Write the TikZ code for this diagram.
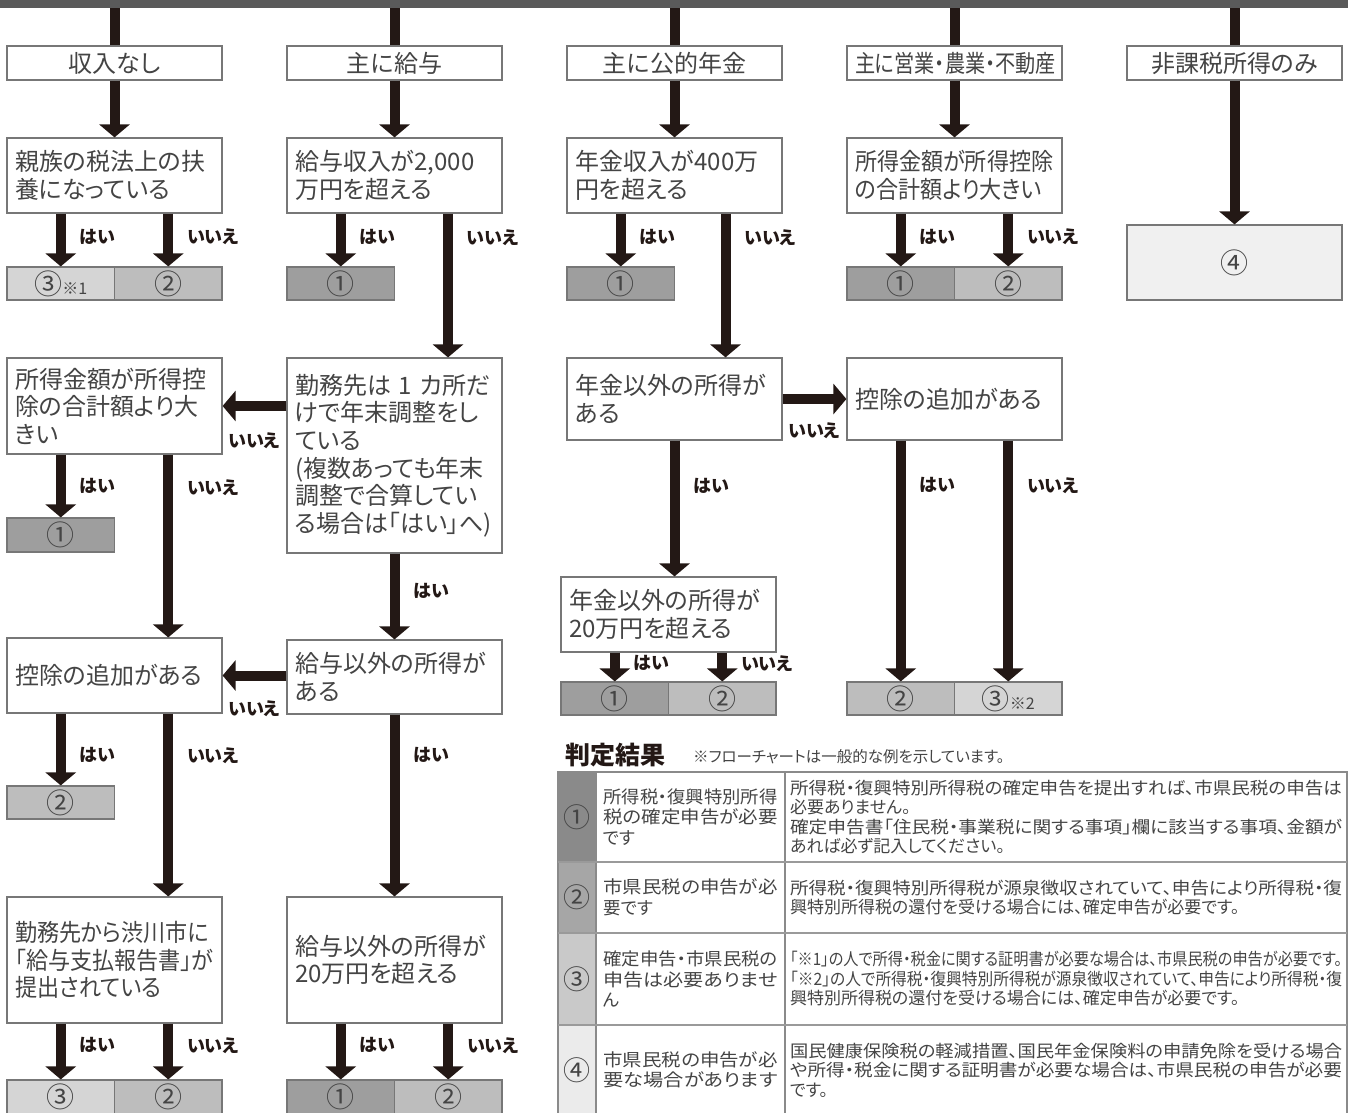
\documentclass[tikz,border=0pt]{standalone}
\usepackage{fontspec}
\usepackage{graphicx}
\setmainfont{Noto Sans CJK JP}[RawFeature=+palt]
\newfontfamily\narrowjp{Noto Sans CJK JP}[RawFeature=+palt, FakeStretch=0.92]
\newfontfamily\condjp{Noto Sans CJK JP}[RawFeature=+palt, FakeStretch=0.84]
\usetikzlibrary{arrows.meta, positioning}

\definecolor{ink}{HTML}{231815}
\definecolor{barGray}{HTML}{5A5A5A}
\definecolor{edgeGray}{HTML}{777777}
\definecolor{textGray}{HTML}{444444}
\definecolor{resOne}{HTML}{9E9E9E}
\definecolor{resTwo}{HTML}{BDBDBD}
\definecolor{resThree}{HTML}{D5D5D5}
\definecolor{resFour}{HTML}{F0F0F0}
\definecolor{tabOne}{HTML}{8A8A8A}
\definecolor{tabTwo}{HTML}{A6A6A6}
\definecolor{tabThree}{HTML}{C9C9C9}
\definecolor{tabFour}{HTML}{EBEBEB}
\definecolor{tableEdge}{HTML}{8A8A8A}
\definecolor{ruleGray}{HTML}{9A9A9A}

\newcommand{\fitline}[2]{\resizebox{#1}{\height}{#2}}

\begin{document}
\begin{tikzpicture}[
    x=1pt, y=-1pt,
    node distance=112.5pt,
    >={Triangle[width=30pt, length=13pt]},
    arrow/.style={->, line width=10pt, draw=ink},
    link/.style={line width=10pt, draw=ink},
    question/.style={rectangle, draw=edgeGray, line width=1.2pt, fill=white, text=textGray,
        font=\fontsize{24}{27.5}\selectfont, minimum width=215pt, text width=199pt,
        inner xsep=8pt, inner ysep=2pt, align=left},
    category/.style={question, align=center, minimum height=34pt},
    narrow/.style={font=\narrowjp\fontsize{24}{27.5}\selectfont},
    result/.style={rectangle, draw=edgeGray, line width=1.2pt, text=textGray,
        font=\fontsize{28}{28}\selectfont, minimum width=107.5pt, minimum height=33pt, inner sep=0pt},
    answer/.style={font=\bfseries\fontsize{18}{18}\selectfont, text=ink, inner sep=0pt},
    numcell/.style={rectangle, draw=tableEdge, line width=1.2pt, outer sep=0pt, text=textGray,
        font=\fontsize{27}{27}\selectfont, minimum width=38pt, inner sep=0pt},
    labelcell/.style={rectangle, draw=tableEdge, line width=1.2pt, outer sep=0pt, text=textGray,
        font=\fontsize{17.5}{20.5}\selectfont, minimum width=189pt, text width=174pt,
        inner xsep=7.5pt, align=left},
    desccell/.style={rectangle, draw=tableEdge, line width=1.2pt, outer sep=0pt, text=textGray,
        font=\fontsize{17}{19.5}\selectfont, minimum width=562pt, text width=552pt,
        inner xsep=5pt, align=left},
    rowrule/.style={line width=2.5pt, draw=ruleGray}
]
\useasboundingbox (0,0) rectangle (1348,1112);

% Nodes
\node (topBar) [rectangle, fill=barGray, minimum width=1348pt, minimum height=8pt, inner sep=0pt] at (674,4) {};
\node (noIncome) [category] at (114.5,63) {収入なし};
\node (mainSalary) [category, node distance=280pt, right of=noIncome] {主に給与};
\node (mainPension) [category, node distance=280pt, right of=mainSalary] {主に公的年金};
\node (mainBusiness) [category, node distance=280pt, right of=mainPension, font=\condjp\fontsize{24}{27.5}\selectfont] {主に営業・農業・不動産};
\node (taxFreeOnly) [category, node distance=280pt, right of=mainBusiness] {非課税所得のみ};

\node (checkDependent) [question, below of=noIncome, minimum height=75pt] {親族の税法上の扶\\養になっている};
\node (checkSalary) [question, below of=mainSalary, minimum height=75pt] {給与収入が2,000\\万円を超える};
\node (checkPension) [question, below of=mainPension, minimum height=75pt] {年金収入が400万\\円を超える};
\node (checkProfit) [question, narrow, below of=mainBusiness, minimum height=75pt] {所得金額が所得控除\\の合計額より大きい};
\node (resFourTop) [result, fill=resFour, node distance=199.5pt, below of=taxFreeOnly, minimum width=215pt, minimum height=75pt] {④};

\node (depYes) [result, fill=resThree, node distance=108pt, below of=checkDependent, xshift=-53.75pt] {③{\fontsize{16}{16}\selectfont※1}};
\node (depNo) [result, fill=resTwo, node distance=108pt, below of=checkDependent, xshift=53.75pt] {②};
\node (salYes) [result, fill=resOne, node distance=108pt, below of=checkSalary, xshift=-53.75pt] {①};
\node (penYes) [result, fill=resOne, node distance=108pt, below of=checkPension, xshift=-53.75pt] {①};
\node (profYes) [result, fill=resOne, node distance=108pt, below of=checkProfit, xshift=-53.75pt] {①};
\node (profNo) [result, fill=resTwo, node distance=108pt, below of=checkProfit, xshift=53.75pt] {②};

\node (oneEmployer) [question, node distance=280pt, below of=checkSalary, minimum height=195pt] {勤務先は~1~カ所だ\\けで年末調整をし\\ている\\(複数あっても年末\\調整で合算してい\\る場合は「はい」へ)};
\node (checkProfitB) [question, node distance=230.5pt, below of=checkDependent, minimum height=96pt] {所得金額が所得控\\除の合計額より大\\きい};
\node (profBYes) [result, fill=resOne, node distance=129pt, below of=checkProfitB, xshift=-53.75pt, minimum height=34pt] {①};
\node (addDeductA) [question, node distance=269.5pt, below of=checkProfitB, minimum height=75pt] {控除の追加がある};
\node (addAYes) [result, fill=resTwo, node distance=127pt, below of=addDeductA, xshift=-53.75pt] {②};
\node (reportFiled) [question, narrow, node distance=284.5pt, below of=addDeductA, minimum height=126pt] {勤務先から渋川市に\\「給与支払報告書」が\\提出されている};
\node (reportYes) [result, fill=resThree, node distance=137pt, below of=reportFiled, xshift=-53.75pt, minimum height=34pt] {③};
\node (reportNo) [result, fill=resTwo, node distance=137pt, below of=reportFiled, xshift=53.75pt, minimum height=34pt] {②};

\node (otherSalary) [question, node distance=221.5pt, below of=oneEmployer, minimum height=74pt] {給与以外の所得が\\ある};
\node (otherSalary20) [question, node distance=283pt, below of=otherSalary, minimum height=126pt] {給与以外の所得が\\20万円を超える};
\node (other20Yes) [result, fill=resOne, node distance=137pt, below of=otherSalary20, xshift=-53.75pt, minimum height=34pt] {①};
\node (other20No) [result, fill=resTwo, node distance=137pt, below of=otherSalary20, xshift=53.75pt, minimum height=34pt] {②};

\node (otherPension) [question, node distance=223.5pt, below of=checkPension, minimum height=82pt] {年金以外の所得が\\ある};
\node (otherPension20) [question, node distance=215.5pt, below of=otherPension, xshift=-6pt, minimum height=75pt] {年金以外の所得が\\20万円を超える};
\node (pen20Yes) [result, fill=resOne, node distance=84pt, below of=otherPension20, xshift=-53.75pt] {①};
\node (pen20No) [result, fill=resTwo, node distance=84pt, below of=otherPension20, xshift=53.75pt] {②};

\node (addDeductB) [question, node distance=223.5pt, below of=checkProfit, minimum height=82pt] {控除の追加がある};
\node (addBYes) [result, fill=resTwo, node distance=299.5pt, below of=addDeductB, xshift=-53.75pt] {②};
\node (addBNo) [result, fill=resThree, node distance=299.5pt, below of=addDeductB, xshift=53.75pt] {③{\fontsize{16}{16}\selectfont※2}};

% Arrows
\draw [link] (topBar.south -| noIncome) -- (noIncome.north);
\draw [link] (topBar.south -| mainSalary) -- (mainSalary.north);
\draw [link] (topBar.south -| mainPension) -- (mainPension.north);
\draw [link] (topBar.south -| mainBusiness) -- (mainBusiness.north);
\draw [link] (topBar.south -| taxFreeOnly) -- (taxFreeOnly.north);
\draw [arrow] (noIncome) -- (checkDependent);
\draw [arrow] (mainSalary) -- (checkSalary);
\draw [arrow] (mainPension) -- (checkPension);
\draw [arrow] (mainBusiness) -- (checkProfit);
\draw [arrow] (taxFreeOnly) -- (resFourTop);

% no income
\draw [arrow] (checkDependent.south -| depYes) -- (depYes) node[answer, pos=0.44, right=14pt]{はい};
\draw [arrow] (checkDependent.south -| depNo) -- (depNo) node[answer, pos=0.44, right=14pt]{いいえ};
\draw [arrow] (checkProfitB.south -| profBYes) -- (profBYes) node[answer, midway, right=14pt]{はい};
\draw [arrow] ([xshift=53.75pt]checkProfitB.south) -- ([xshift=53.75pt]addDeductA.north) node[answer, pos=0.18, right=14pt]{いいえ};
\draw [arrow] (addDeductA.south -| addAYes) -- (addAYes) node[answer, pos=0.57, right=14pt]{はい};
\draw [arrow] ([xshift=53.75pt]addDeductA.south) -- ([xshift=53.75pt]reportFiled.north) node[answer, pos=0.23, right=14pt]{いいえ};
\draw [arrow] (reportFiled.south -| reportYes) -- (reportYes) node[answer, pos=0.39, right=14pt]{はい};
\draw [arrow] (reportFiled.south -| reportNo) -- (reportNo) node[answer, pos=0.39, right=14pt]{いいえ};

% salary
\draw [arrow] (checkSalary.south -| salYes) -- (salYes) node[answer, pos=0.44, right=14pt]{はい};
\draw [arrow] ([xshift=53.5pt]checkSalary.south) -- ([xshift=53.5pt]oneEmployer.north) node[answer, pos=0.17, right=14pt]{いいえ};
\draw [arrow] (oneEmployer.west |- checkProfitB) -- (checkProfitB.east) node[answer, midway, below=22pt]{いいえ};
\draw [arrow] (oneEmployer) -- (otherSalary) node[answer, pos=0.43, right=14pt]{はい};
\draw [arrow] (otherSalary.west |- addDeductA) -- (addDeductA.east) node[answer, midway, below=20pt]{いいえ};
\draw [arrow] (otherSalary) -- (otherSalary20) node[answer, pos=0.22, right=14pt]{はい};
\draw [arrow] (otherSalary20.south -| other20Yes) -- (other20Yes) node[answer, pos=0.39, right=14pt]{はい};
\draw [arrow] (otherSalary20.south -| other20No) -- (other20No) node[answer, pos=0.39, right=14pt]{いいえ};

% pension
\draw [arrow] (checkPension.south -| penYes) -- (penYes) node[answer, pos=0.44, right=14pt]{はい};
\draw [arrow] ([xshift=51pt]checkPension.south) -- ([xshift=51pt]otherPension.north) node[answer, pos=0.17, right=14pt]{いいえ};
\draw [arrow] (otherPension) -- (addDeductB) node[answer, midway, below=19pt]{いいえ};
\draw [arrow] (otherPension.south) -- (otherPension.south |- otherPension20.north) node[answer, pos=0.33, right=14pt]{はい};
\draw [arrow] (otherPension20.south -| pen20Yes) -- (pen20Yes) node[answer, pos=0.37, right=14pt]{はい};
\draw [arrow] (otherPension20.south -| pen20No) -- (pen20No) node[answer, pos=0.37, right=14pt]{いいえ};

% business
\draw [arrow] (checkProfit.south -| profYes) -- (profYes) node[answer, pos=0.44, right=14pt]{はい};
\draw [arrow] (checkProfit.south -| profNo) -- (profNo) node[answer, pos=0.44, right=14pt]{いいえ};
\draw [arrow] (addDeductB.south -| addBYes) -- (addBYes) node[answer, pos=0.186, right=14pt]{はい};
\draw [arrow] (addDeductB.south -| addBNo) -- (addBNo) node[answer, pos=0.186, right=14pt]{いいえ};

% Result table
\node (tableTitle) [anchor=west, inner sep=0pt, text=ink, font=\bfseries\fontsize{25}{25}\selectfont] at (565,755) {判定結果};
\node (tableNote) [anchor=west, inner sep=0pt, text=textGray, font=\fontsize{15.5}{15.5}\selectfont] at (693,757) {※フローチャートは一般的な例を示しています。};

\node (numOne) [numcell, fill=tabOne, minimum height=90pt, anchor=north west] at (558,772) {①};
\node (labOne) [labelcell, minimum height=90pt, right=0pt of numOne] {\fitline{174pt}{所得税・復興特別所得}\\\fitline{174pt}{税の確定申告が必要}\\です};
\node (descOne) [desccell, minimum height=90pt, right=0pt of labOne] {\fitline{552pt}{所得税・復興特別所得税の確定申告を提出すれば、市県民税の申告は}\\必要ありません。\\\fitline{552pt}{確定申告書「住民税・事業税に関する事項」欄に該当する事項、金額が}\\あれば必ず記入してください。};

\node (numTwo) [numcell, fill=tabTwo, minimum height=71pt, below=0pt of numOne] {②};
\node (labTwo) [labelcell, minimum height=71pt, right=0pt of numTwo] {\fitline{174pt}{市県民税の申告が必}\\要です};
\node (descTwo) [desccell, minimum height=71pt, right=0pt of labTwo] {\fitline{552pt}{所得税・復興特別所得税が源泉徴収されていて、申告により所得税・復}\\興特別所得税の還付を受ける場合には、確定申告が必要です。};

\node (numThree) [numcell, fill=tabThree, minimum height=92pt, below=0pt of numTwo] {③};
\node (labThree) [labelcell, minimum height=92pt, right=0pt of numThree] {\fitline{174pt}{確定申告・市県民税の}\\\fitline{174pt}{申告は必要ありませ}\\ん};
\node (descThree) [desccell, minimum height=92pt, right=0pt of labThree] {\fitline{552pt}{「※1」の人で所得・税金に関する証明書が必要な場合は、市県民税の申告が必要です。}\\\fitline{552pt}{「※2」の人で所得税・復興特別所得税が源泉徴収されていて、申告により所得税・復}\\興特別所得税の還付を受ける場合には、確定申告が必要です。};

\node (numFour) [numcell, fill=tabFour, minimum height=90pt, below=0pt of numThree] {④};
\node (labFour) [labelcell, minimum height=90pt, right=0pt of numFour] {\fitline{174pt}{市県民税の申告が必}\\\fitline{174pt}{要な場合があります}};
\node (descFour) [desccell, minimum height=90pt, right=0pt of labFour] {\fitline{552pt}{国民健康保険税の軽減措置、国民年金保険料の申請免除を受ける場合}\\\fitline{552pt}{や所得・税金に関する証明書が必要な場合は、市県民税の申告が必要}\\です。};

\draw [rowrule] (numOne.south west) -- (descOne.south east);
\draw [rowrule] (numTwo.south west) -- (descTwo.south east);
\draw [rowrule] (numThree.south west) -- (descThree.south east);
\end{tikzpicture}
\end{document}
